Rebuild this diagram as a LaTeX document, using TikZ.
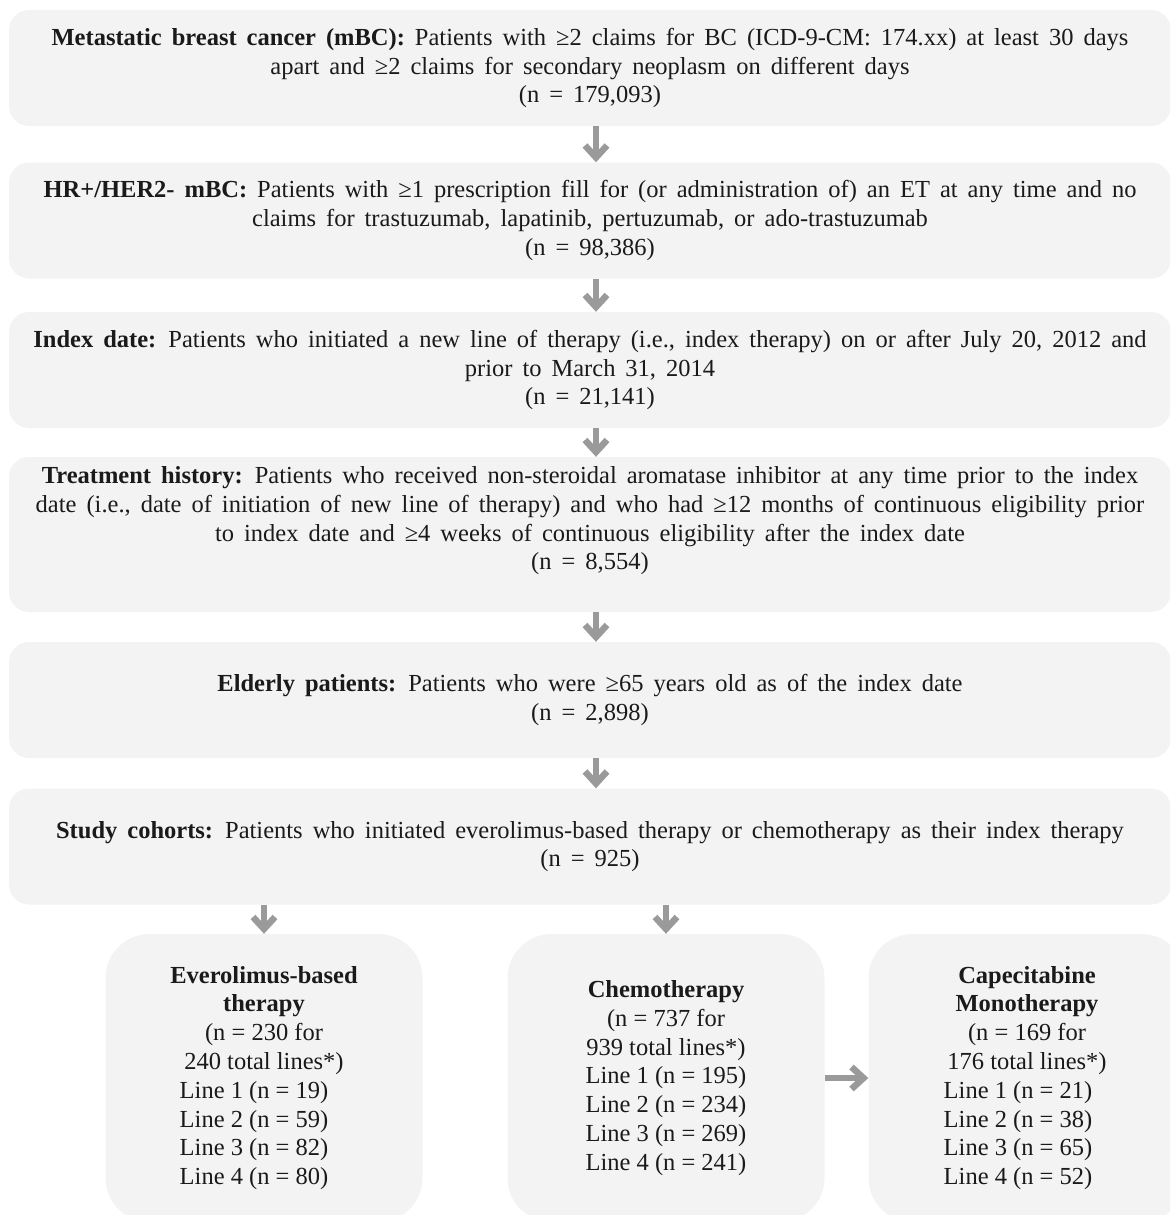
\documentclass[tikz,border=0pt]{standalone}
\usepackage{fontspec}
\setmainfont{Liberation Serif}
\usetikzlibrary{arrows.meta,positioning}
\definecolor{boxgray}{HTML}{F3F3F3}
\definecolor{arrowgray}{HTML}{9A9A9A}
\definecolor{ink}{HTML}{1A1A1A}
\newcommand\widespacing{\spaceskip=10pt plus 2pt minus 1pt\relax}
\newcommand\linerow[2][0pt]{\mbox{#2\hspace{#1}}}

\begin{document}
\begin{tikzpicture}[
  x=1pt, y=-1pt,
  every node/.style={font=\fontsize{24.5}{28.8}\selectfont, text=ink},
  stage/.style={fill=boxgray, rounded corners=20pt, minimum width=1162pt,
    minimum height=116pt, align=center, inner sep=0pt,
    font=\fontsize{24.5}{28.8}\selectfont\widespacing},
  cohort/.style={fill=boxgray, rounded corners=44pt, minimum width=317pt,
    minimum height=288pt, align=center, inner sep=0pt},
  flow/.style={draw=arrowgray, line width=6.5pt, -{Straight Barb[length=12pt,width=22pt]}}
]
  \clip (0,0) rectangle (1170,1215);

  \node[stage] (mbc) at (590,68) {\textbf{Metastatic breast cancer (mBC):} Patients with ≥2 claims for BC (ICD-9-CM: 174.xx) at least 30 days\\
    apart and ≥2 claims for secondary neoplasm on different days\\(n = 179,093)};
  \node[stage] (hrher) at (590,220.5) {\textbf{HR+/HER2- mBC:} Patients with ≥1 prescription fill for (or administration of) an ET at any time and no\\
    claims for trastuzumab, lapatinib, pertuzumab, or ado-trastuzumab\\(n = 98,386)};
  \node[stage] (index) at (590,370) {\textbf{Index date:} Patients who initiated a new line of therapy (i.e., index therapy) on or after July 20, 2012 and\\
    prior to March 31, 2014\\(n = 21,141)};
  \node[stage, minimum height=155pt] (history) at (590,534.5) {\textbf{Treatment history:} Patients who received non-steroidal aromatase inhibitor at any time prior to the index\\
    date (i.e., date of initiation of new line of therapy) and who had ≥12 months of continuous eligibility prior\\
    to index date and ≥4 weeks of continuous eligibility after the index date\\(n = 8,554)\\[4pt]\mbox{}};
  \node[stage] (elderly) at (590,700) {\textbf{Elderly patients:} Patients who were ≥65 years old as of the index date\\(n = 2,898)};
  \node[stage] (cohorts) at (590,846.5) {\textbf{Study cohorts:} Patients who initiated everolimus-based therapy or chemotherapy as their index therapy\\(n = 925)};

  % treatment groups
  \node[cohort] (evero) at (264,1078) {\textbf{Everolimus-based}\\\textbf{therapy}\\(n = 230 for\\240 total lines*)\\
    \linerow[20pt]{Line 1 (n = 19)}\\\linerow[20pt]{Line 2 (n = 59)}\\\linerow[20pt]{Line 3 (n = 82)}\\\linerow[20pt]{Line 4 (n = 80)}};
  \node[cohort] (chemo) at (666,1078) {\textbf{Chemotherapy}\\(n = 737 for\\939 total lines*)\\
    Line 1 (n = 195)\\Line 2 (n = 234)\\Line 3 (n = 269)\\Line 4 (n = 241)};
  \node[cohort] (cape) at (1027,1078) {\textbf{Capecitabine}\\\textbf{Monotherapy}\\(n = 169 for\\176 total lines*)\\
    \linerow[18pt]{Line 1 (n = 21)}\\\linerow[18pt]{Line 2 (n = 38)}\\\linerow[18pt]{Line 3 (n = 65)}\\\linerow[18pt]{Line 4 (n = 52)}};

  \draw[flow] ([xshift=6pt]mbc.south) -- ([xshift=6pt]hrher.north);
  \draw[flow] ([xshift=6pt]hrher.south) -- ([xshift=6pt]index.north);
  \draw[flow] ([xshift=6pt]index.south) -- ([xshift=6pt]history.north);
  \draw[flow] ([xshift=6pt]history.south) -- ([xshift=6pt]elderly.north);
  \draw[flow] ([xshift=6pt]elderly.south) -- ([xshift=6pt]cohorts.north);
  \draw[flow] (cohorts.south -| evero.north) -- (evero.north);
  \draw[flow] (cohorts.south -| chemo.north) -- (chemo.north);
  \draw[flow] (chemo.east) -- (cape.west);
\end{tikzpicture}
\end{document}
